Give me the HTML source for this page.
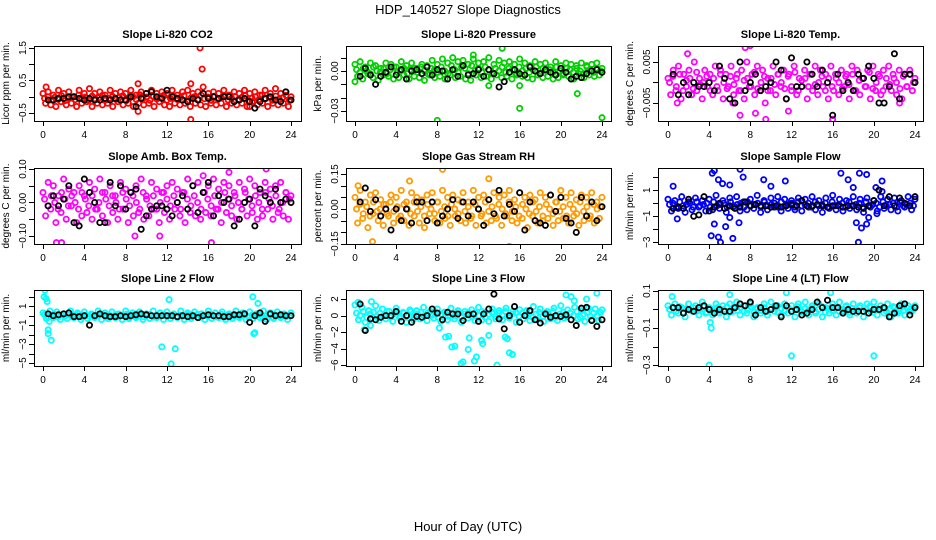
<!DOCTYPE html>
<html><head><meta charset="utf-8"><style>
body{margin:0;background:#fff;}
svg{display:block;font-family:"Liberation Sans",sans-serif;}
</style></head><body>
<svg id="chart" width="936" height="540" viewBox="0 0 936 540">
<text x="468" y="14" font-size="13" text-anchor="middle">HDP_140527  Slope Diagnostics</text>
<text x="468" y="531" font-size="13" text-anchor="middle">Hour of Day (UTC)</text>
</svg>
<script>
// ---- data ----
const p1Col=[0.1,-0.2,0.15,-0.25,0.05,-0.3,0.2,-0.15,0.1,-0.25,0.15,-0.2,0.0,-0.3,0.2,-0.2,0.1,-0.15,0.25,-0.3,0.1,-0.2,0.15,-0.25,0.05,-0.2,0.2,-0.3,0.1,-0.15,0.15,-0.25,0.1,-0.2,0.2,-0.3,0.05,-0.2,0.15,-0.25,0.1,-0.2,0.2,-0.3,0.1,-0.15,0.15,-0.25,0.1,-0.3,0.2,-0.2,0.05,-0.25,0.15,-0.2,0.2,-0.3,0.1,-0.2,0.15,-0.25,0.3,-0.3,0.1,-0.2,0.15,-0.25,0.1,-0.2,0.2,-0.3,0.05,-0.2,0.15,-0.25,0.1,-0.2,0.2,-0.3,0.1,-0.15,0.15,-0.25,0.05,-0.2,0.2,-0.3,0.1,-0.2,0.25,-0.25,0.1,-0.2,0.15,-0.3,0.0];
const p1ColB=[-0.05,0.0,-0.1,-0.02,-0.08,0.03,-0.12,-0.04,0.0,-0.09,0.05,-0.06,-0.01,-0.11,0.02,-0.07,-0.03,0.04,-0.1,-0.05,0.01,-0.08,-0.02,0.03,-0.12,-0.04,0.0,-0.09,0.06,-0.06,-0.01,-0.11,0.02,-0.07,-0.03,0.04,-0.1,-0.05,0.01,-0.08,-0.02,0.03,-0.13,-0.04,0.0,-0.09,0.05,-0.06,-0.01,-0.11,0.02,-0.07,-0.03,0.04,-0.1,-0.05,0.01,-0.08,-0.02,0.03,-0.12,-0.04,0.0,-0.09,0.05,-0.06,-0.01,-0.11,0.02,-0.07,-0.03,0.04,-0.1];
const p1Blk=[-0.1,-0.1,-0.05,-0.05,0.0,0.0,-0.05,-0.1,-0.05,-0.1,-0.1,-0.05,-0.1,-0.05,-0.1,-0.1,0.0,-0.3,-0.05,0.1,0.15,0.0,-0.05,0.2,0.0,-0.05,-0.1,-0.15,-0.05,-0.1,0.1,-0.05,0.0,-0.05,0.0,0.0,-0.15,-0.1,-0.05,-0.15,-0.35,-0.15,-0.05,0.0,-0.1,-0.15,0.15,-0.1];
const p1OutT=[15.2,15.4,14.3,9.2,9.2,0.3,20,14.3];
const p1OutV=[1.5,0.85,-0.7,-0.45,0.4,0.3,-0.3,0.4];

const p2Col=[0.005,-0.004,0.007,-0.006,0.003,-0.002,0.006,-0.005,0.004,-0.007,0.002,-0.003,0.006,-0.004,0.005,-0.006,0.003,-0.005,0.007,-0.003,0.004,-0.006,0.006,-0.004,0.002,-0.005,0.005,-0.007,0.004,-0.003,0.008,-0.005,0.005,-0.004,0.009,-0.006,0.006,-0.003,0.010,-0.005,0.007,-0.004,0.008,-0.006,0.005,-0.007,0.009,-0.003,0.006,-0.005,0.007,-0.004,0.010,-0.006,0.005,-0.003,0.008,-0.005,0.006,-0.004,0.007,-0.006,0.005,-0.003,0.009,-0.004,0.006,-0.005,0.004,-0.006,0.007,-0.003,0.005,-0.005,0.006,-0.004,0.003,-0.006,0.007,-0.005,0.004,-0.003,0.006,-0.004,0.005,-0.006,0.004,-0.002,0.006,-0.005,0.004,-0.003,0.005,-0.004,0.006,-0.003,0.002];
const p2ColB=[0.001,-0.001,0.002,0.0,-0.002,0.003,0.0,-0.001,0.002,-0.002,0.001,0.003,-0.001,0.0,0.002,-0.002,0.001,0.002,-0.001,0.003,0.0,-0.002,0.002,0.001,-0.001,0.003,0.0,-0.002,0.004,0.001,-0.001,0.003,0.002,-0.002,0.004,0.0,0.002,-0.001,0.003,0.001,-0.002,0.002,0.0,0.003,-0.001,0.002,0.001,-0.002,0.003,0.0,0.002,-0.001,0.001,0.003,-0.002,0.002,0.0,0.001,-0.001,0.003,0.0,-0.002,0.002,0.001,-0.001,0.002,0.0,-0.002,0.003,0.001,-0.001,0.002,0.0];
const p2Blk=[-0.004,0.002,-0.003,-0.01,-0.004,-0.001,0.003,-0.003,0.001,-0.006,0.0,0.001,-0.002,0.003,-0.003,0.001,0.0,-0.006,0.001,-0.004,0.004,-0.003,-0.002,0.001,-0.004,0.001,-0.002,-0.012,-0.008,-0.001,0.001,-0.002,-0.003,0.003,0.0,-0.002,0.001,-0.001,-0.003,0.002,-0.001,-0.006,-0.004,-0.005,-0.002,0.0,0.001,-0.001];
const p2OutT=[8,16,24,21.6,14.3,11.5,0,16,13];
const p2OutV=[-0.037,-0.028,-0.035,-0.017,0.017,0.012,-0.008,-0.011,-0.011];

const p3Col=[0.001,-0.003,0.003,-0.002,0.004,-0.004,0.002,-0.001,0.003,-0.003,0.005,-0.002,0.001,-0.004,0.003,-0.001,0.002,-0.003,0.004,-0.002,0.003,-0.004,0.002,-0.001,0.004,-0.003,0.001,-0.002,0.003,-0.004,0.005,-0.001,0.002,-0.003,0.004,-0.002,0.003,-0.005,0.001,-0.002,0.004,-0.003,0.002,-0.001,0.003,-0.004,0.002,-0.002,0.004,-0.003,0.001,-0.001,0.003,-0.004,0.002,-0.002,0.004,-0.003,0.003,-0.001,0.002,-0.004,0.004,-0.002,0.001,-0.003,0.003,-0.001,0.002,-0.004,0.004,-0.002,0.003,-0.003,0.001,-0.001,0.003,-0.004,0.004,-0.002,0.002,-0.003,0.003,-0.001,0.004,-0.002,0.001,-0.003,0.003,-0.004,0.002,-0.001,0.003,-0.002,0.001];
const p3ColB=[0.0,0.0015,-0.001,0.002,-0.002,0.0005,0.001,-0.0015,0.0025,-0.0005,0.0,0.0015,-0.002,0.001,-0.001,0.002,0.0,-0.0015,0.0015,-0.0005,0.002,-0.002,0.0005,0.001,-0.001,0.0025,-0.0015,0.0,0.0015,-0.002,0.001,-0.0005,0.002,0.0,-0.0015,0.0015,-0.001,0.0025,-0.002,0.0005,0.001,-0.001,0.002,-0.0005,0.0,0.0015,-0.002,0.001,-0.001,0.002,0.0,-0.0015,0.0015,-0.0005,0.002,-0.002,0.0005,0.001,-0.001,0.0025,-0.0015,0.0,0.0015,-0.002,0.001,-0.0005,0.002,0.0,-0.0015,0.0015,-0.001,0.002,0.0];
const p3Blk=[0.002,-0.003,0.0,-0.003,0.0,-0.001,-0.001,0.0,-0.002,0.004,0.001,-0.004,-0.005,0.005,-0.002,0.0,0.002,-0.002,-0.001,0.0,0.005,0.003,-0.004,0.006,-0.001,-0.001,0.005,0.002,-0.001,0.003,0.0,-0.008,0.002,-0.002,0.0,-0.002,0.002,0.001,0.004,0.001,-0.005,-0.005,-0.001,0.007,-0.004,0.002,0.002,0.0];
const p3OutT=[7,7.5,8,9.5,16,6.3,1.9,0.9,22.5,11.7,8.5];
const p3OutV=[-0.008,0.0085,0.009,-0.009,-0.009,-0.005,0.007,-0.005,-0.005,-0.007,-0.0075];

const p4Col=[0.03,-0.04,0.06,-0.02,0.05,-0.06,0.02,-0.03,0.07,-0.05,0.04,-0.01,0.03,-0.06,0.05,-0.04,0.02,-0.03,0.06,-0.05,0.04,-0.02,0.07,-0.04,0.03,-0.06,0.05,-0.03,0.02,-0.05,0.06,-0.02,0.04,-0.06,0.03,-0.04,0.05,-0.03,0.07,-0.05,0.02,-0.04,0.06,-0.02,0.04,-0.06,0.03,-0.03,0.05,-0.05,0.06,-0.02,0.04,-0.04,0.03,-0.06,0.07,-0.03,0.05,-0.04,0.06,-0.05,0.08,-0.03,0.05,-0.04,0.07,-0.02,0.04,-0.06,0.06,-0.03,0.05,-0.04,0.03,-0.05,0.06,-0.02,0.04,-0.04,0.07,-0.03,0.05,-0.05,0.03,-0.04,0.06,-0.02,0.04,-0.05,0.05,-0.03,0.06,-0.04,0.03,-0.05,0.02];
const p4ColB=[0.01,-0.01,0.02,0.0,-0.02,0.03,0.01,-0.01,0.02,0.0,-0.02,0.03,0.01,-0.01,0.02,-0.02,0.0,0.03,0.01,-0.01,0.02,0.0,-0.02,0.03,0.01,-0.01,0.02,0.0,-0.02,0.03,0.01,-0.01,0.02,-0.02,0.0,0.03,0.01,-0.01,0.02,0.0,-0.02,0.03,0.01,-0.01,0.02,0.0,-0.02,0.03,0.01,-0.01,0.02,-0.02,0.0,0.03,0.01,-0.01,0.02,0.0,-0.02,0.03,0.01,-0.01,0.02,0.0,-0.02,0.03,0.01,-0.01,0.02,-0.02,0.0,0.03,0.01];
const p4Blk=[-0.01,0.02,-0.01,0.01,0.05,-0.06,-0.07,0.07,0.03,0.0,-0.06,-0.06,0.06,-0.01,0.05,-0.02,0.03,0.04,-0.08,-0.04,-0.02,-0.01,-0.01,-0.02,-0.04,0.0,0.02,-0.02,0.05,-0.03,0.03,0.06,-0.04,0.02,0.0,0.01,-0.07,-0.05,0.0,0.01,-0.07,0.04,0.02,0.0,0.04,0.0,0.01,0.0];
const p4OutT=[1.3,1.8,21.6,18,8.9,11.3,16.3];
const p4OutV=[-0.12,-0.12,0.1,0.09,-0.1,-0.1,-0.12];

const p5Col=[0.05,-0.06,0.08,-0.04,0.03,-0.08,0.06,-0.02,0.07,-0.05,0.04,-0.07,0.02,-0.03,0.06,-0.06,0.05,-0.04,0.08,-0.05,0.03,-0.07,0.07,-0.03,0.05,-0.06,0.04,-0.08,0.06,-0.02,0.07,-0.05,0.03,-0.06,0.08,-0.04,0.05,-0.07,0.06,-0.03,0.04,-0.05,0.07,-0.06,0.03,-0.04,0.08,-0.07,0.05,-0.03,0.06,-0.06,0.04,-0.05,0.07,-0.04,0.05,-0.07,0.06,-0.03,0.08,-0.05,0.04,-0.06,0.07,-0.04,0.05,-0.08,0.06,-0.03,0.04,-0.06,0.07,-0.05,0.05,-0.04,0.06,-0.07,0.03,-0.05,0.08,-0.04,0.05,-0.06,0.07,-0.03,0.04,-0.07,0.06,-0.05,0.05,-0.04,0.07,-0.06,0.03,-0.04,0.05];
const p5ColB=[0.0,0.02,-0.02,0.01,-0.03,0.03,-0.01,0.0,0.02,-0.02,0.03,-0.01,0.01,-0.03,0.02,0.0,-0.02,0.03,-0.01,0.01,-0.03,0.02,0.0,-0.02,0.03,-0.01,0.01,-0.03,0.02,0.0,-0.02,0.03,-0.01,0.01,-0.03,0.02,0.0,-0.02,0.03,-0.01,0.01,-0.03,0.02,0.0,-0.02,0.03,-0.01,0.01,-0.03,0.02,0.0,-0.02,0.03,-0.01,0.01,-0.03,0.02,0.0,-0.02,0.03,-0.01,0.01,-0.03,0.02,0.0,-0.02,0.03,-0.01,0.01,-0.03,0.02,0.0,0.01];
const p5Blk=[0.03,0.09,-0.01,0.04,-0.03,0.0,-0.09,0.0,-0.05,0.0,-0.06,0.03,0.03,-0.05,0.03,-0.06,-0.03,0.0,0.04,-0.04,0.03,-0.03,0.03,0.0,-0.07,0.04,-0.02,0.08,-0.03,0.02,-0.01,0.07,-0.09,0.03,-0.05,-0.06,-0.07,0.06,-0.01,0.05,-0.04,-0.06,-0.1,0.05,-0.03,0.03,-0.05,0.01];
const p5OutT=[8.5,13,0.3,1.7,17.3,15,5.3];
const p5OutV=[0.17,0.13,0.1,-0.14,-0.2,-0.16,0.12];

const p6Col=[0.3,-0.6,0.2,-0.4,0.5,-0.7,0.1,-0.5,0.4,-0.3,0.2,-0.6,0.3,-0.5,0.6,-0.4,0.2,-0.7,0.4,-0.3,0.5,-0.6,0.1,-0.5,0.3,-0.4,0.6,-0.7,0.2,-0.5,0.4,-0.3,0.5,-0.6,0.3,-0.4,0.2,-0.5,0.4,-0.6,0.3,-0.3,0.5,-0.5,0.2,-0.7,0.4,-0.4,0.6,-0.5,0.3,-0.6,0.2,-0.4,0.5,-0.5,0.3,-0.7,0.4,-0.3,0.2,-0.6,0.5,-0.4,0.3,-0.5,0.4,-0.6,0.2,-0.3,0.5,-0.5,0.3];
const p6ColB=[-0.1,0.0,-0.3,0.1,-0.2,-0.1,0.0,-0.3,0.1,-0.2,-0.1,0.0,-0.3,0.1,-0.2,-0.1,0.0,-0.3,0.1,-0.2,-0.1,0.0,-0.3,0.1,-0.2,-0.1,0.0,-0.3,0.1,-0.2,-0.1,0.0,-0.3,0.1,-0.2,-0.1,0.0,-0.3,0.1,-0.2,-0.1,0.0,-0.3,0.1,-0.2,-0.1,0.0,-0.3,0.1,-0.2,-0.1,0.0,-0.3,0.1,-0.2,-0.1,0.0,-0.3,0.1,-0.2,-0.1,0.0,-0.3,0.1,-0.2,-0.1,0.0,-0.3,0.1,-0.2,-0.1,0.0,-0.2];
const p6Blk=[-0.4,-0.3,-0.4,0.3,-1.0,-0.9,0.5,-0.6,-0.3,0.0,-0.4,-0.2,-0.4,-0.3,0.1,-0.2,-0.1,-0.2,-0.2,-0.3,-0.2,-0.3,-0.2,-0.1,-0.2,0.2,-0.2,-0.2,-0.1,-0.2,-0.3,-0.2,-0.2,-0.3,-0.2,-0.2,-0.3,-0.4,-0.2,0.2,1.0,-0.2,0.5,-0.2,0.4,0.0,-0.2,0.5];
const p6OutT=[4.3,4.5,4.9,5.3,6,7,7.3,9.3,10,11.4,4.5,4.2,4.9,5.1,5.6,6.3,6.9,6,0.9,0.5,16.8,17.5,18,18.6,19.3,20.2,18.3,18.5,18.8,19.3,19.5,20.3,20.8,20.8];
const p6OutV=[2.3,2.5,1.8,1.5,1.4,2.6,2.0,1.8,1.3,1.7,-1.6,-2.5,-2.6,-3.0,-1.8,-2.7,-1.5,-1.1,-1.2,1.3,2.3,1.8,1.2,2.3,2.2,1.2,-1.5,-3.0,-1.9,-1.6,-1.1,-0.8,0.9,1.7];

const p7Col=[0.3,-0.3,0.5,-0.2,0.4,-0.4,0.2,-0.3,0.5,-0.2,0.3,-0.4,0.4,-0.3,0.2,-0.2,0.5,-0.4,0.3,-0.3,0.4,-0.2,0.2,-0.4,0.5,-0.3,0.3,-0.2,0.4,-0.4,0.2,-0.3,0.5,-0.2,0.3,-0.4,0.4,-0.3,0.2,-0.2,0.5,-0.4,0.3,-0.3,0.4,-0.2,0.2,-0.4,0.5,-0.3,0.3,-0.2,0.4,-0.4,0.2,-0.3,0.5,-0.2,0.3,-0.4,0.4,-0.3,0.2,-0.2,0.5,-0.4,0.3,-0.3,0.4,-0.2,0.2,-0.4,0.3];
const p7ColB=[0.1,-0.1,0.0,0.15,-0.15,0.05,-0.05,0.1,-0.1,0.0,0.15,-0.15,0.05,-0.05,0.1,-0.1,0.0,0.15,-0.15,0.05,-0.05,0.1,-0.1,0.0,0.15,-0.15,0.05,-0.05,0.1,-0.1,0.0,0.15,-0.15,0.05,-0.05,0.1,-0.1,0.0,0.15,-0.15,0.05,-0.05,0.1,-0.1,0.0,0.15,-0.15,0.05,-0.05,0.1,-0.1,0.0,0.15,-0.15,0.05,-0.05,0.1,-0.1,0.0,0.15,-0.15,0.05,-0.05,0.1,-0.1,0.0,0.15,-0.15,0.05,-0.05,0.1,-0.1,0.0];
const p7Blk=[0.2,0.0,0.1,0.2,0.3,-0.1,-0.1,0.0,-1.0,0.0,0.2,0.0,-0.1,-0.1,0.0,-0.1,0.0,0.1,0.2,0.1,0.0,0.0,0.0,0.0,0.0,-0.1,0.0,-0.1,0.0,-0.2,0.0,0.1,0.0,0.0,-0.1,-0.1,0.1,0.1,0.2,-0.7,0.0,0.3,-0.6,0.2,0.0,0.1,0.0,0.0];
const p7OutT=[0.1,0.2,0.4,0.5,0.5,0.8,0.3,11.5,12.2,12.4,12.8,20.3,20.5,20.4,20.8,0.6];
const p7OutV=[2,2.7,1.5,-1.5,-1.9,-2.6,1.8,-3.3,1.7,-5.1,-3.5,2.0,-1.8,-1.9,1.3,-0.6];

const p8Col=[1.3,-0.5,1.0,-0.8,0.6,-0.3,1.2,-0.6,0.8,-0.4,0.5,-0.7,0.9,-0.3,0.4,-0.8,0.7,-0.5,0.6,-0.4,1.0,-0.6,0.5,-0.3,0.8,-0.7,0.4,-0.5,0.9,-0.4,0.6,-0.8,0.5,-0.3,0.7,-0.6,1.0,-0.5,0.4,-0.7,0.8,-0.4,0.6,-0.5,0.9,-0.3,0.5,-0.8,0.7,-0.4,0.6,-0.6,1.1,-0.5,0.8,-0.7,0.5,-0.4,0.9,-0.6,1.2,-0.3,0.7,-0.5,1.0,-0.4,0.6,-0.7,0.9,-0.5,0.8,-0.6,0.7];
const p8ColB=[0.3,0.0,0.5,-0.2,0.2,0.4,-0.1,0.3,0.0,0.5,-0.2,0.2,0.4,-0.1,0.3,0.0,0.5,-0.2,0.2,0.4,-0.1,0.3,0.0,0.5,-0.2,0.2,0.4,-0.1,0.3,0.0,0.5,-0.2,0.2,0.4,-0.1,0.3,0.0,0.5,-0.2,0.2,0.4,-0.1,0.3,0.0,0.5,-0.2,0.2,0.4,-0.1,0.3,0.0,0.5,-0.2,0.2,0.4,-0.1,0.3,0.0,0.5,-0.2,0.2,0.4,-0.1,0.3,0.0,0.5,-0.2,0.2,0.4,-0.1,0.3,0.0,0.4];
const p8Blk=[1.4,-1.8,-0.4,-0.5,-0.2,0.0,0.0,0.5,-0.7,0.0,-0.8,-0.1,-0.2,0.0,0.8,0.3,-0.5,0.4,0.2,0.2,-0.6,0.1,0.2,-0.7,0.2,0.8,2.6,-0.4,-1.6,0.0,1.1,-0.8,0.0,0.6,-0.5,-0.9,0.2,-0.2,0.0,-0.1,0.1,-0.5,-1.2,0.9,1.0,-0.6,-1.3,-0.5];
const p8OutT=[0.9,1.5,8.2,8.8,9.1,9.4,9.7,10.5,10.3,11,11.1,11.6,11.8,12.4,12.3,13.0,13.8,14.6,14.8,15.0,15.3,20.5,21,21.3,23.5,22.5,0.3,1.6];
const p8OutV=[-1.7,-1.2,-1.5,-2.6,-2.5,-3.8,-3.7,-5.6,-5.8,-4.1,-2.7,-5.5,-5.0,-3.4,-3.0,-2.4,-6.0,-2.6,-2.8,-4.5,-4.7,2.5,2.3,1.8,2.7,2.0,1.6,1.7];

const p9Col=[0.02,-0.03,0.03,-0.02,0.01,-0.04,0.03,-0.01,0.02,-0.03,0.04,-0.02,0.01,-0.03,0.03,-0.02,0.02,-0.04,0.03,-0.01,0.04,-0.03,0.02,-0.02,0.03,-0.04,0.01,-0.02,0.03,-0.03,0.04,-0.01,0.02,-0.03,0.03,-0.02,0.02,-0.04,0.03,-0.01,0.04,-0.03,0.02,-0.02,0.03,-0.04,0.01,-0.02,0.03,-0.03,0.04,-0.01,0.02,-0.03,0.03,-0.02,0.02,-0.04,0.03,-0.01,0.04,-0.03,0.02,-0.02,0.03,-0.04,0.01,-0.02,0.03,-0.03,0.02,-0.01,0.02];
const p9ColB=[0.0,0.01,-0.01,0.015,-0.015,0.005,-0.005,0.01,-0.01,0.0,0.015,-0.015,0.005,-0.005,0.01,-0.01,0.0,0.015,-0.015,0.005,-0.005,0.01,-0.01,0.0,0.015,-0.015,0.005,-0.005,0.01,-0.01,0.0,0.015,-0.015,0.005,-0.005,0.01,-0.01,0.0,0.015,-0.015,0.005,-0.005,0.01,-0.01,0.0,0.015,-0.015,0.005,-0.005,0.01,-0.01,0.0,0.015,-0.015,0.005,-0.005,0.01,-0.01,0.0,0.015,-0.015,0.005,-0.005,0.01,-0.01,0.0,0.015,-0.015,0.005,-0.005,0.01,-0.01,0.0];
const p9Blk=[0.01,0.01,-0.02,0.0,-0.01,0.01,0.02,0.0,-0.02,0.0,-0.01,-0.01,0.01,0.03,0.02,0.04,-0.03,0.01,-0.01,0.0,0.02,-0.04,0.02,-0.01,0.0,-0.03,-0.02,0.0,0.04,0.01,0.05,0.01,0.01,-0.02,0.0,-0.01,-0.01,-0.01,-0.02,0.0,0.0,0.01,-0.04,-0.02,0.02,0.03,-0.03,0.01];
const p9OutT=[4,12,20,0.4,4.1,4.2,6,11.5,15.8];
const p9OutV=[-0.3,-0.25,-0.25,0.07,-0.07,-0.1,0.08,0.09,0.09];

const xTicks=[0,4,8,12,16,20,24];

const panels=[
 {name:'co2',title:'Slope Li-820 CO2',ylab:'Licor ppm per min.',color:'#ff0000',col:p1Col,colB:p1ColB,blk:p1Blk,ot:p1OutT,ov:p1OutV,ymin:-0.746,ymax:1.56,ticks:[-0.5,0,0.5,1,1.5],labels:[-0.5,0.5,1.5],fmt:1,r:0,c:0},
 {name:'pressure',title:'Slope Li-820 Pressure',ylab:'kPa per min.',color:'#00d000',col:p2Col,colB:p2ColB,blk:p2Blk,ot:p2OutT,ov:p2OutV,ymin:-0.0375,ymax:0.01875,ticks:[-0.03,-0.02,-0.01,0,0.01],labels:[-0.03,0],fmt:2,r:0,c:1},
 {name:'li820-temp',title:'Slope Li-820 Temp.',ylab:'degrees C per min.',color:'#ff00ff',col:p3Col,colB:p3ColB,blk:p3Blk,ot:p3OutT,ov:p3OutV,ymin:-0.0094,ymax:0.0089,ticks:[-0.005,0,0.005],labels:[-0.005,0.005],fmt:3,r:0,c:2},
 {name:'amb-box-temp',title:'Slope Amb. Box Temp.',ylab:'degrees C per min.',color:'#ff00ff',col:p4Col,colB:p4ColB,blk:p4Blk,ot:p4OutT,ov:p4OutV,ymin:-0.124,ymax:0.103,ticks:[-0.1,-0.05,0,0.05,0.1],labels:[-0.1,0,0.1],fmt:2,r:1,c:0},
 {name:'gas-stream-rh',title:'Slope Gas Stream RH',ylab:'percent per min.',color:'#ff9a00',col:p5Col,colB:p5ColB,blk:p5Blk,ot:p5OutT,ov:p5OutV,ymin:-0.15,ymax:0.176,ticks:[-0.15,-0.1,-0.05,0,0.05,0.1,0.15],labels:[-0.15,0,0.15],fmt:2,r:1,c:1},
 {name:'sample-flow',title:'Slope Sample Flow',ylab:'ml/min per min.',color:'#0000ff',col:p6Col,colB:p6ColB,blk:p6Blk,ot:p6OutT,ov:p6OutV,ymin:-3.13,ymax:2.7,ticks:[-3,-2,-1,0,1,2],labels:[-3,-1,1],fmt:0,r:1,c:2},
 {name:'line2-flow',title:'Slope Line 2 Flow',ylab:'ml/min per min.',color:'#00ffff',col:p7Col,colB:p7ColB,blk:p7Blk,ot:p7OutT,ov:p7OutV,ymin:-5.32,ymax:2.72,ticks:[-5,-4,-3,-2,-1,0,1,2],labels:[-5,-3,-1,1],fmt:0,r:2,c:0},
 {name:'line3-flow',title:'Slope Line 3 Flow',ylab:'ml/min per min.',color:'#00ffff',col:p8Col,colB:p8ColB,blk:p8Blk,ot:p8OutT,ov:p8OutV,ymin:-6.1,ymax:3.1,ticks:[-6,-4,-2,0,2],labels:[-6,-4,-2,0,2],fmt:0,r:2,c:1},
 {name:'line4-flow',title:'Slope Line 4 (LT) Flow',ylab:'ml/min per min.',color:'#00ffff',col:p9Col,colB:p9ColB,blk:p9Blk,ot:p9OutT,ov:p9OutV,ymin:-0.305,ymax:0.105,ticks:[-0.3,-0.2,-0.1,0,0.1],labels:[-0.3,-0.1,0.1],fmt:1,r:2,c:2}
];

const colBox=[{l:34,r:301,x0:43,x24:291},{l:346,r:611,x0:355,x24:602},{l:658,r:923,x0:668,x24:915}];
const rowBox=[{t:46,b:121},{t:168,b:244},{t:290,b:366}];

const NS='http://www.w3.org/2000/svg';
const svg=document.getElementById('chart');
function mk(tag,attrs,parent){const e=document.createElementNS(NS,tag);for(const k in attrs)e.setAttribute(k,attrs[k]);parent.appendChild(e);return e;}

panels.forEach(p=>{
  const cb=colBox[p.c], rb=rowBox[p.r];
  const xs=t=>cb.x0+(t/24)*(cb.x24-cb.x0);
  const ys=v=>rb.b-(v-p.ymin)/(p.ymax-p.ymin)*(rb.b-rb.t);
  const g=mk('g',{},svg);
  
  
  const clip=mk('clipPath',{id:'clip-'+p.name},g);
  mk('rect',{x:cb.l,y:rb.t,width:cb.r-cb.l,height:rb.b-rb.t},clip);
  const pts=mk('g',{'clip-path':'url(#clip-'+p.name+')',fill:'none','stroke-width':1.8},g);
  
  
  const n=p.col.length;
  p.col.forEach((v,i)=>{
    const c=mk('circle',{cx:xs(i*24/(n-1)),cy:ys(v),r:2.6,stroke:p.color},pts);
    
    
  });
  const nb=p.colB.length;
  p.colB.forEach((v,i)=>{
    const c=mk('circle',{cx:xs(0.15+i*23.7/(nb-1)),cy:ys(v),r:2.6,stroke:p.color},pts);
    
    
  });
  p.ot.forEach((t,i)=>{
    const c=mk('circle',{cx:xs(t),cy:ys(p.ov[i]),r:2.6,stroke:p.color},pts);
    
    
  });
  const m=p.blk.length;
  p.blk.forEach((v,i)=>{
    const c=mk('circle',{cx:xs(0.5+i*23.5/(m-1)),cy:ys(v),r:2.6,stroke:'#000'},pts);
    
    
  });
  const box=mk('rect',{x:cb.l+0.5,y:rb.t+0.5,width:cb.r-cb.l,height:rb.b-rb.t,fill:'none',stroke:'#000','stroke-width':1},g);
  
  
  const tt=mk('text',{x:(cb.l+cb.r)/2,y:rb.t-8,'font-size':11,'font-weight':'bold','text-anchor':'middle'},g);
  tt.textContent=p.title;
  
  
  const yl=mk('text',{transform:`translate(${cb.l-25},${(rb.t+rb.b)/2}) rotate(-90)`,'font-size':10,'text-anchor':'middle'},g);
  yl.textContent=p.ylab;
  
  
  p.ticks.forEach(v=>{
    const y=Math.round(ys(v))+0.5;
    const l=mk('line',{x1:cb.l-5,x2:cb.l,y1:y,y2:y,stroke:'#000'},g);
    
    
  });
  p.labels.forEach(v=>{
    const y=ys(v);
    const s=v===0?(p.fmt?(0).toFixed(p.fmt):'0'):(v<0?'\u2212'+Math.abs(v).toFixed(p.fmt):v.toFixed(p.fmt));
    const tl=mk('text',{transform:`translate(${cb.l-8},${y}) rotate(-90)`,'font-size':10,'text-anchor':'middle'},g);
    tl.textContent=s;
    
    
  });
  xTicks.forEach(t=>{
    const x=Math.round(xs(t))+0.5;
    const l=mk('line',{x1:x,x2:x,y1:rb.b,y2:rb.b+5,stroke:'#000'},g);
    
    
    const tl=mk('text',{x:xs(t),y:rb.b+17,'font-size':10,'text-anchor':'middle'},g);
    tl.textContent=String(t);
    
    
  });
});
</script>
</body></html>
